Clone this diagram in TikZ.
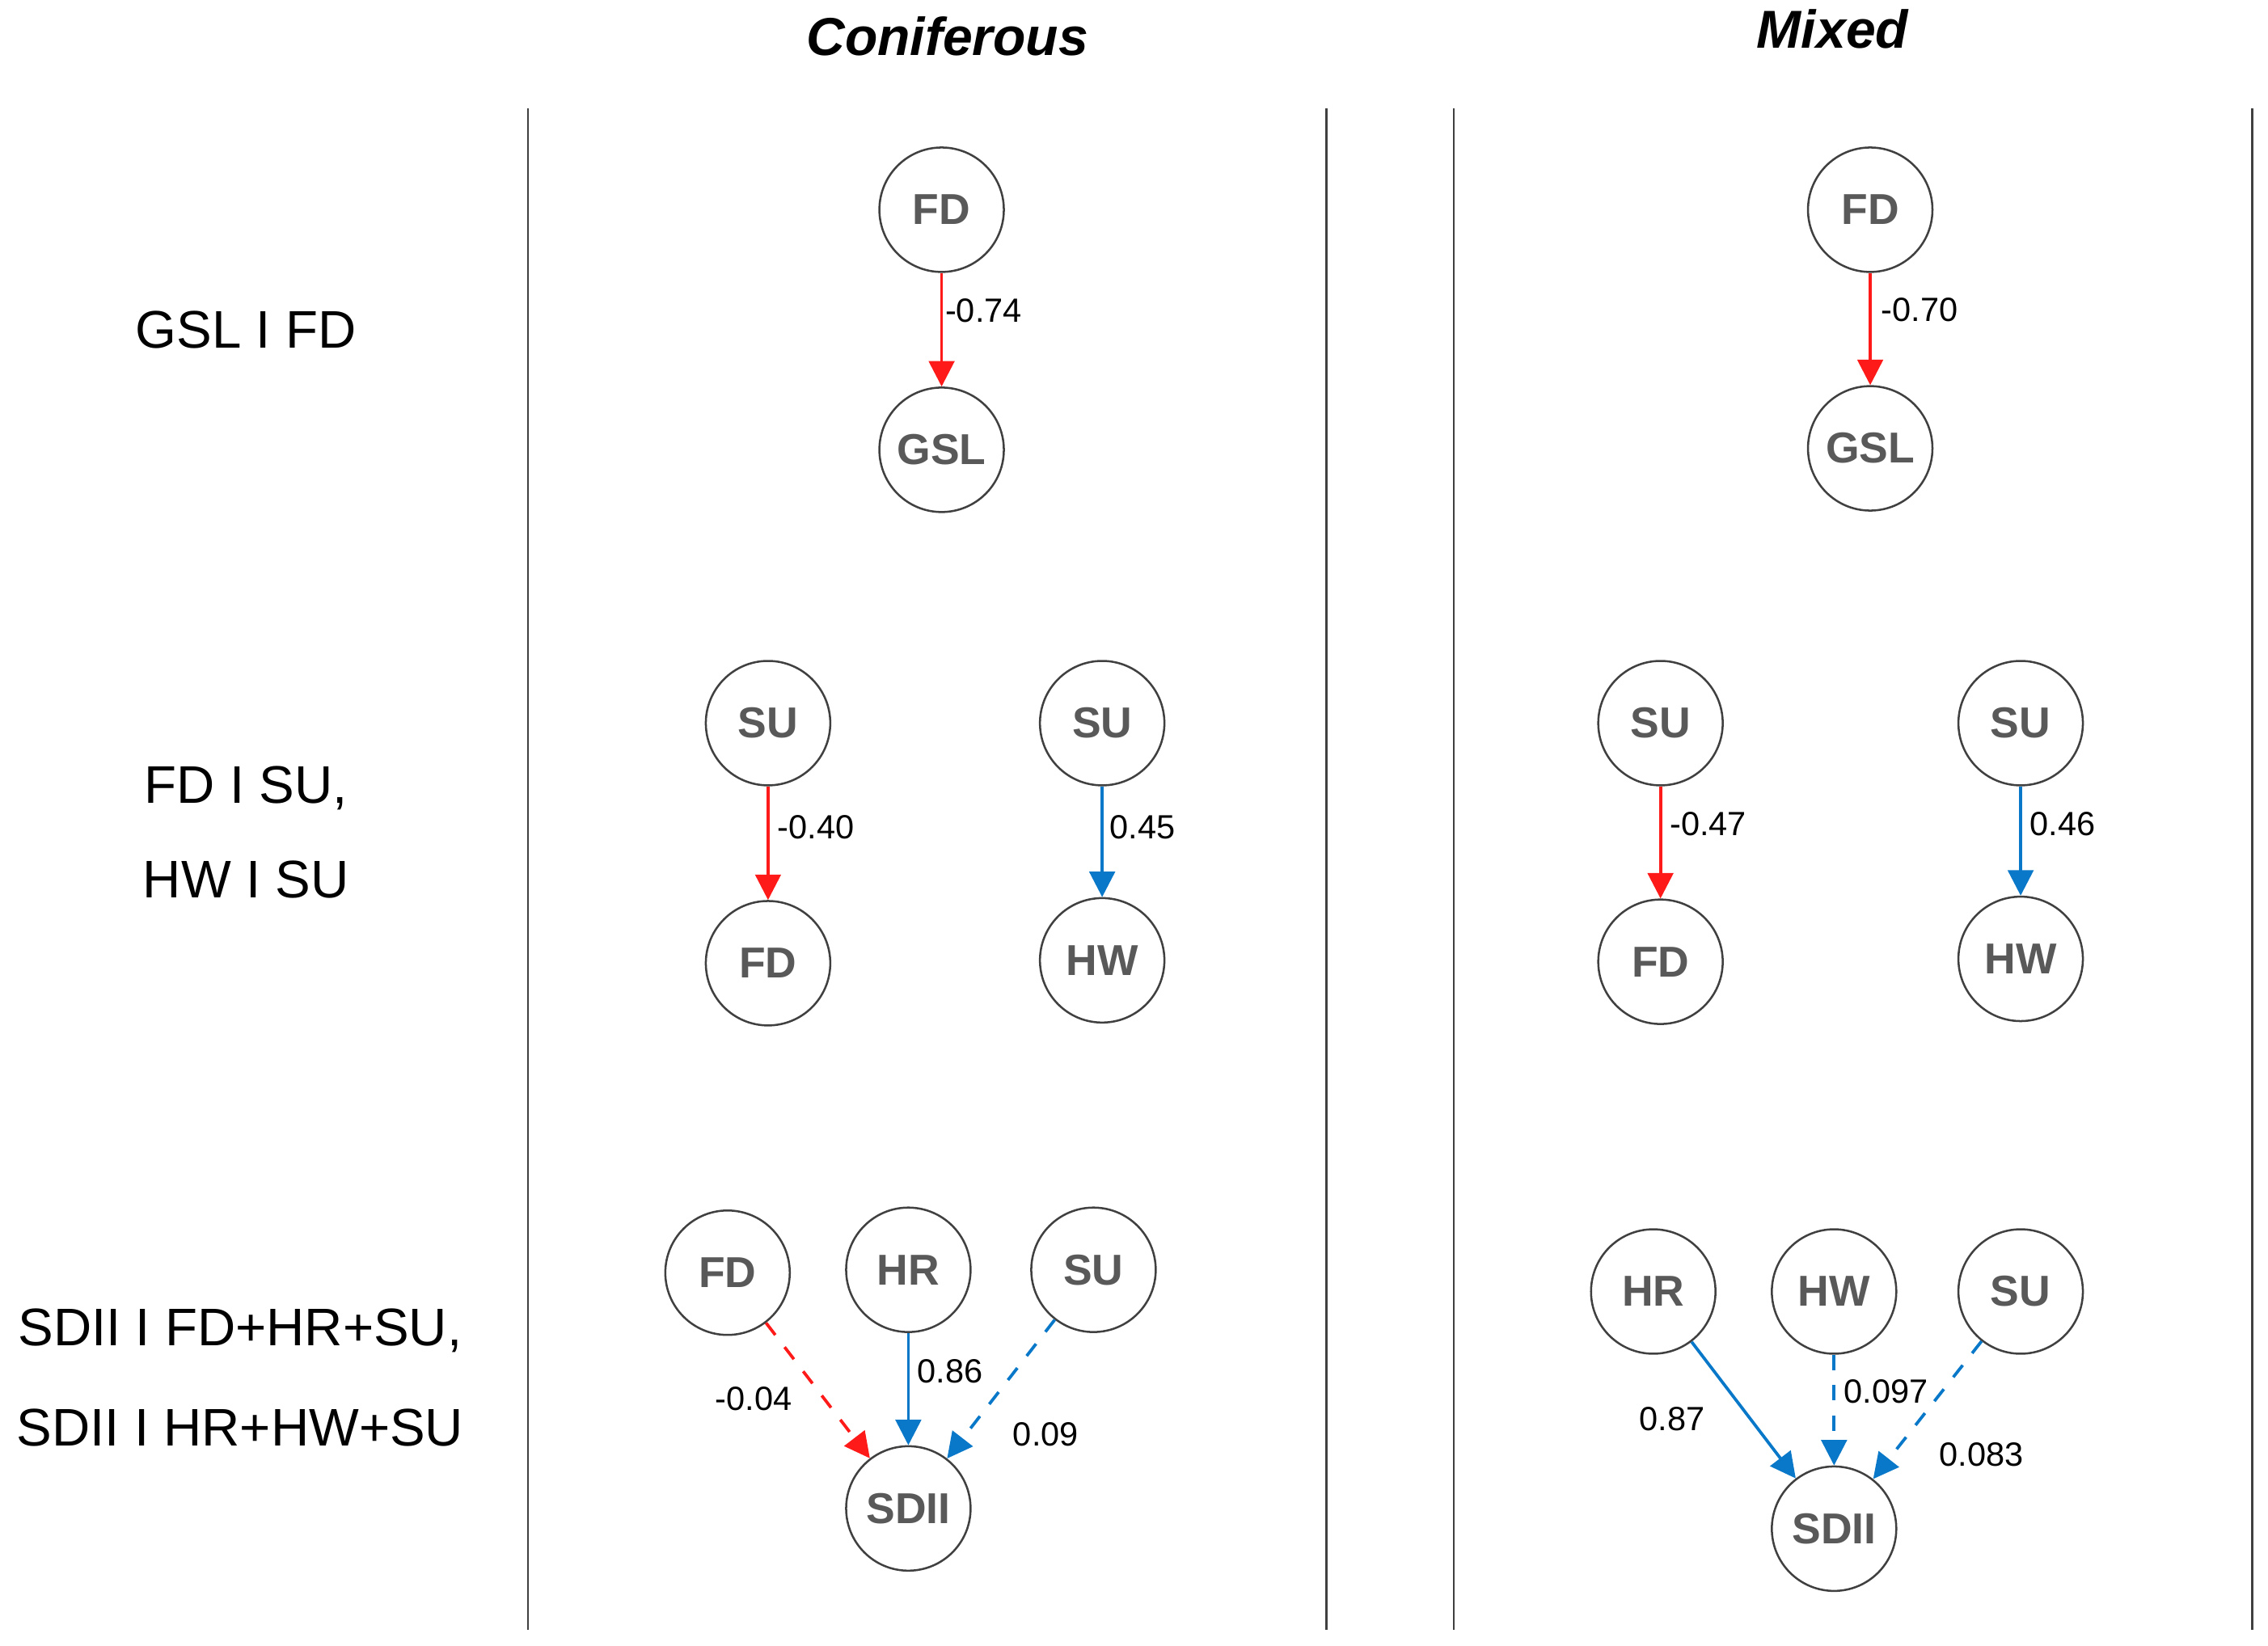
\documentclass[tikz,border=0pt]{standalone}
\usepackage{fontspec}
\setmainfont{Liberation Sans}
\usetikzlibrary{arrows.meta}
\definecolor{grisnode}{HTML}{595959}
\definecolor{rouge}{HTML}{FF1A1A}
\definecolor{bleu}{HTML}{0A78C8}
\tikzset{var/.style={
    circle,
    draw=black!75,
    minimum size=0.86cm,
    inner sep=0pt,
    font=\fontsize{8.5}{9}\selectfont\bfseries,
    text=grisnode}}
\tikzset{lien/.style={
    -{Triangle[length=5pt,width=5pt]},
    semithick}}
\tikzset{coef/.style={
    font=\fontsize{6.6}{7}\selectfont}}
\tikzset{titre/.style={
    font=\fontsize{10.5}{12}\selectfont\bfseries\itshape}}
\tikzset{modele/.style={
    font=\fontsize{10.4}{12}\selectfont}}

\begin{document}
\begin{tikzpicture}[x=0.01cm, y=-0.01cm]
\useasboundingbox (0,0) rectangle (1568,1138);

% separations
\foreach \xs in {365,917,1005,1557}
  \draw[black!75] (\xs,75) -- (\xs,1127);

\node[titre] (tc) at (655,25) {Coniferous};
\node[titre] (tm) at (1267,20) {Mixed};

\node[modele] (m1) at (170,228) {GSL I FD};
\node[modele] (m2) at (170,545) {FD I SU,};
\node[modele] (m3) at (170,608) {HW I SU};
\node[modele] (m4) at (166,920) {SDII I FD+HR+SU,};
\node[modele] (m5) at (166,987) {SDII I HR+HW+SU};

% coniferous
\node[var] (cfd) at (651,145) {FD};
\node[var] (cgsl) at (651,311) {GSL};
\draw[lien,rouge] (cfd) -- (cgsl);
\node[coef] (l1) at (680,215) {-0.74};

\node[var] (csu1) at (531,500) {SU};
\node[var] (cfd2) at (531,666) {FD};
\draw[lien,rouge] (csu1) -- (cfd2);
\node[coef] (l2) at (564,572) {-0.40};

\node[var] (csu2) at (762,500) {SU};
\node[var] (chw) at (762,664) {HW};
\draw[lien,bleu] (csu2) -- (chw);
\node[coef] (l3) at (790,572) {0.45};

\node[var] (cfd3) at (503,880) {FD};
\node[var] (chr) at (628,878) {HR};
\node[var] (csu3) at (756,878) {SU};
\node[var] (csdii) at (628,1043) {SDII};
\draw[lien,rouge,dashed] (cfd3) -- (csdii);
\draw[lien,bleu] (chr) -- (csdii);
\draw[lien,bleu,dashed] (csu3) -- (csdii);
\node[coef] (l4) at (521,967) {-0.04};
\node[coef] (l5) at (657,948) {0.86};
\node[coef] (l6) at (723,992) {0.09};

% mixed
\node[var] (mfd) at (1293,145) {FD};
\node[var] (mgsl) at (1293,310) {GSL};
\draw[lien,rouge] (mfd) -- (mgsl);
\node[coef] (l7) at (1327,214) {-0.70};

\node[var] (msu1) at (1148,500) {SU};
\node[var] (mfd2) at (1148,665) {FD};
\draw[lien,rouge] (msu1) -- (mfd2);
\node[coef] (l8) at (1181,570) {-0.47};

\node[var] (msu2) at (1397,500) {SU};
\node[var] (mhw) at (1397,663) {HW};
\draw[lien,bleu] (msu2) -- (mhw);
\node[coef] (l9) at (1426,570) {0.46};

\node[var] (mhr) at (1143,893) {HR};
\node[var] (mhw2) at (1268,893) {HW};
\node[var] (msu3) at (1397,893) {SU};
\node[var] (msdii) at (1268,1057) {SDII};
\draw[lien,bleu] (mhr) -- (msdii);
\draw[lien,bleu,dashed] (mhw2) -- (msdii);
\draw[lien,bleu,dashed] (msu3) -- (msdii);
\node[coef] (l10) at (1156,981) {0.87};
\node[coef] (l11) at (1304,962) {0.097};
\node[coef] (l12) at (1370,1006) {0.083};
\end{tikzpicture}
\end{document}
